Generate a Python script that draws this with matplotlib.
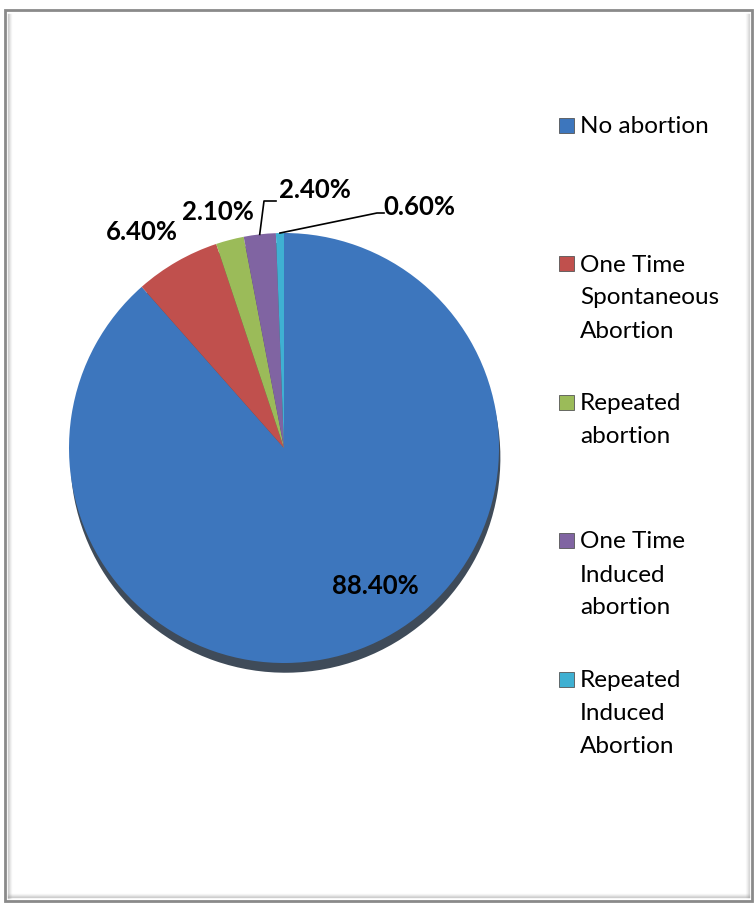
import numpy as np
import matplotlib.pyplot as plt
from matplotlib.patches import Rectangle

categories = ['No abortion', 'One Time\nSpontaneous\nAbortion', 'Repeated\nabortion',
              'One Time\nInduced\nabortion', 'Repeated\nInduced\nAbortion']
values = [88.4, 6.4, 2.1, 2.4, 0.6]
colors = ['#3d76bd', '#c0504d', '#9bbb59', '#8064a2', '#3fb0d2']

W, H = 755, 905
fig = plt.figure(figsize=(W / 100, H / 100), dpi=100)
ax = fig.add_axes([0, 0, 1, 1])

# pie, in pixel units (y measured from bottom)
cx, cy, r = 284, H - 448, 215
wedges, _ = ax.pie(values, colors=colors, startangle=90, counterclock=False,
                   center=(cx, cy), radius=r,
                   wedgeprops=dict(linewidth=0),
                   shadow=dict(ox=1, oy=-7, shade=0.75, alpha=0.8))
ax.set_xlim(0, W)
ax.set_ylim(0, H)
ax.axis('off')

# data labels (centre x, baseline y in image pixels)
label_pos = [(375, 594), (142, 240), (218, 220), (315, 198), (419, 215)]
for v, (lx, ly) in zip(values, label_pos):
    ax.text(lx, H - ly, f'{v:.2f}%', ha='center', va='baseline',
            fontsize=18.5, fontweight='bold', family='Lato', color='black')

# leader lines for the two thin slices
elbows = {3: [(264, 201), (276, 201)], 4: [(377, 213), (384, 213)]}
total = sum(values)
start = 90.0
for i, v in enumerate(values):
    span = 360 * v / total
    mid = np.radians(start - span / 2)
    start -= span
    if i in elbows:
        px, py = cx + r * np.cos(mid), cy + r * np.sin(mid)
        xs = [px] + [e[0] for e in elbows[i]]
        ys = [py] + [H - e[1] for e in elbows[i]]
        ax.plot(xs, ys, color='black', lw=1.2)

# legend
base0, step, line_h = 133, 138.5, 33
for i, (lab, c) in enumerate(zip(categories, colors)):
    b = base0 + i * step
    ax.add_patch(Rectangle((559, H - b), 15, 15, facecolor=c,
                           edgecolor='#555555', linewidth=0.6))
    for j, line in enumerate(lab.split('\n')):
        ax.text(580, H - (b + j * line_h), line, ha='left', va='baseline',
                fontsize=17.5, family='Lato', color='black')

# chart frame with a soft inner shadow
ax.add_patch(Rectangle((5, H - 901), 747, 891, fill=False,
                       edgecolor='#8a8a8a', linewidth=2))
for k, a in enumerate([0.35, 0.22, 0.12, 0.06]):
    ax.plot([8 + k, 8 + k], [H - 898, H - 14], color='gray', alpha=a, lw=1)
    ax.plot([8, 749], [H - 897 + k, H - 897 + k], color='gray', alpha=a, lw=1)
    ax.plot([749 - k, 749 - k], [H - 897, H - 14], color='gray', alpha=a * 0.8, lw=1)

fig.savefig('out.png', dpi=100)
